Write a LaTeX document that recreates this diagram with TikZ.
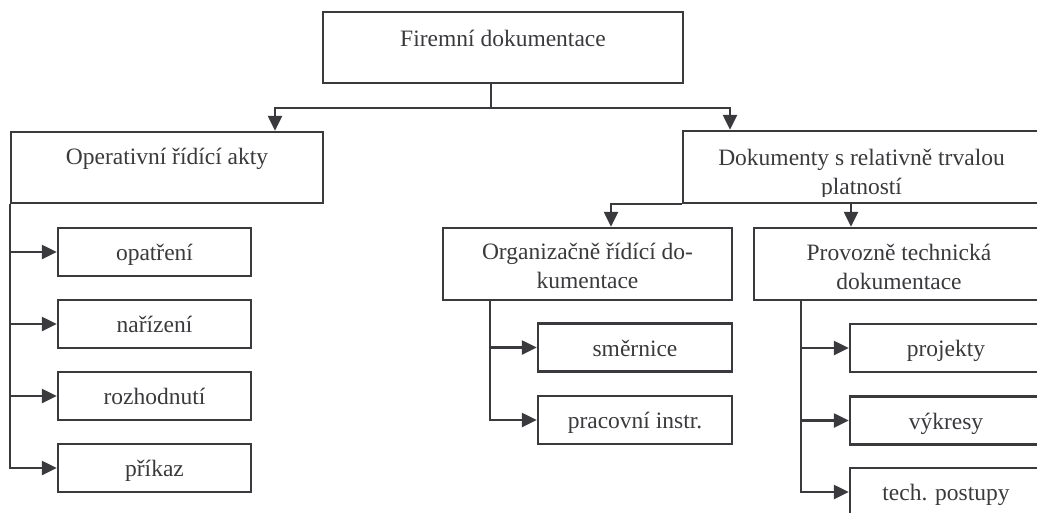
\documentclass[tikz,border=0pt]{standalone}
\usepackage{fontspec}
\setmainfont{Liberation Serif}
\usetikzlibrary{arrows.meta,positioning}
\definecolor{ink}{RGB}{58,58,62}
\tikzset{
	box/.style={draw=ink, line width=2.4pt, rectangle, inner sep=0pt, minimum height=71pt},
	item/.style={draw=ink, line width=2.4pt, rectangle, inner sep=0pt, minimum height=48pt, text height=17pt, text depth=0pt},
	txt/.style={align=center, inner sep=0pt, text=ink},
	link/.style={draw=ink, line width=2.4pt},
	arr/.style={link, -{Triangle[length=15pt, width=14pt]}}
}

\begin{document}
\begin{tikzpicture}[x=1pt, y=-1pt, font=\fontsize{23.5}{29}\selectfont, text=ink]
			%%%%% START %%%%%
			\clip (0, 0) rectangle (1037, 512);
			
			% main boxes
			\node[box, minimum width=360pt] (top) at (503, 47.5) {};
			\node[txt] (toptxt) at ([yshift=9.5pt]top.center) {Firemní dokumentace};
			
			\node[box, minimum width=312pt] (oper) at (167, 167.5) {};
			\node[txt] (opertxt) at ([yshift=8.5pt]oper.center) {Operativní řídící akty};
			
			\node[box, minimum width=357pt, minimum height=72pt] (dok) at (861.5, 167) {};
			\begin{scope}
				\clip (dok.north west) rectangle ([yshift=8pt]dok.south east);
				\node[txt] (doktxt) at ([yshift=-7pt]dok.center) {Dokumenty s relativně trvalou\\platností};
			\end{scope}
			
			\node[box, minimum width=289pt, minimum height=72pt] (org) at (587.5, 264) {};
			\node[txt] (orgtxt) at ([yshift=-2pt]org.center) {Organizačně řídící do-\\kumentace};
			
			\node[box, minimum width=290pt, minimum height=72pt] (prov) at (899, 264) {};
			\node[txt] (provtxt) at ([yshift=-3pt]prov.center) {Provozně technická\\dokumentace};
			
			% items
			\node[item, minimum width=193pt] (opatreni) at (154.5, 252) {opatření};
			\node[item, minimum width=193pt] (narizeni) at (154.5, 324) {nařízení};
			\node[item, minimum width=193pt] (rozhodnuti) at (154.5, 396) {rozhodnutí};
			\node[item, minimum width=193pt] (prikaz) at (154.5, 468) {příkaz};
			
			\node[item, minimum width=194pt] (smernice) at (635, 347.5) {směrnice};
			\node[item, minimum width=194pt] (pracovni) at (635, 420) {pracovní instr.};
			
			\node[item, minimum width=192pt] (projekty) at (946, 348) {projekty};
			\node[item, minimum width=192pt] (vykresy) at (946, 420.5) {výkresy};
			\node[item, minimum width=192pt] (postupy) at (946, 492) {tech. postupy};
			
			% connectors
			\coordinate (split) at (491, 108);
			\draw[link] (split |- top.south) -- (split);
			\draw[arr] (split) -| ([xshift=108pt]oper.north);
			\draw[arr] (split) -| ([xshift=-131.5pt]dok.north);
			
			\draw[arr] (dok.south west) -| ([xshift=23.5pt]org.north);
			\coordinate (pin) at ([xshift=-48pt]prov.north);
			\draw[arr] (pin |- dok.south) -- (pin);
			
			\draw[arr] (oper.south west) |- (prikaz.west);
			\foreach \n in {opatreni, narizeni, rozhodnuti}
				\draw[arr] (oper.south west |- \n.west) -- (\n.west);
			
			\coordinate (orgfoot) at ([xshift=48pt]org.south west);
			\draw[arr] (orgfoot) |- (pracovni.west);
			\draw[arr] (orgfoot |- smernice.west) -- (smernice.west);
			
			\coordinate (provfoot) at ([xshift=48pt]prov.south west);
			\draw[arr] (provfoot) |- (postupy.west);
			\foreach \n in {projekty, vykresy}
				\draw[arr] (provfoot |- \n.west) -- (\n.west);
			
			%%%%% END %%%%%
\end{tikzpicture}
\end{document}
